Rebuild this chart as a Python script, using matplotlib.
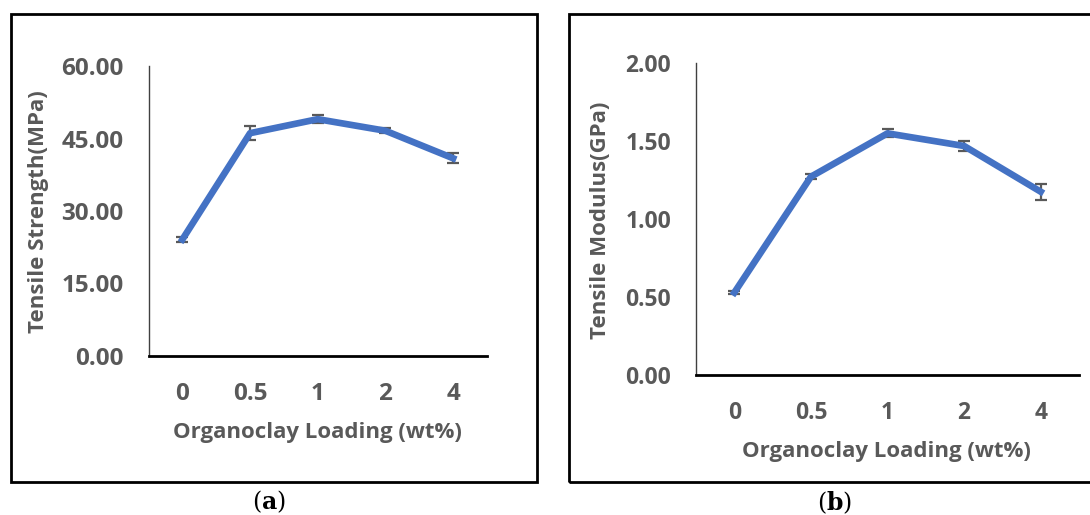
import matplotlib
matplotlib.use("Agg")
import matplotlib.pyplot as plt
from matplotlib.patches import Rectangle

plt.rcParams["font.family"] = ["Open Sans", "DejaVu Sans"]
plt.rcParams["mathtext.fontset"] = "dejavuserif"

loading = ["0", "0.5", "1", "2", "4"]

strength = [24.1, 46.1, 49.0, 46.6, 40.9]
strength_err = [0.5, 1.4, 0.8, 0.5, 1.0]
strength_ticks = [0, 15, 30, 45, 60]

modulus = [0.528, 1.271, 1.549, 1.468, 1.175]
modulus_err = [0.01, 0.015, 0.025, 0.035, 0.05]
modulus_ticks = [0, 0.5, 1.0, 1.5, 2.0]

BLUE = "#4472C4"
GREY = "#595959"
W, H = 1090, 515


def px(x0, y0, x1, y1):
    """pixel box (top-left origin) -> figure fraction rect"""
    return [x0 / W, 1 - y1 / H, (x1 - x0) / W, (y1 - y0) / H]


def panel(ax, y, err, ticks, ylabel, fs_tick, ylab_xy, xlab_xy):
    pos = range(len(loading))
    ax.errorbar(pos, y, yerr=err, color=BLUE, lw=4.8, ecolor=GREY,
                elinewidth=1.6, capsize=4.6, capthick=1.6, zorder=3)
    ax.set_xlim(-0.5, 4.5)
    ax.set_ylim(ticks[0], ticks[-1])
    ax.set_yticks(ticks)
    ax.set_yticklabels([f"{t:.2f}" for t in ticks])
    ax.set_xticks(list(pos))
    ax.set_xticklabels(loading)
    for s in ["top", "right"]:
        ax.spines[s].set_visible(False)
    ax.spines["left"].set_color("#404040")
    ax.spines["left"].set_linewidth(1.0)
    ax.spines["bottom"].set_color("black")
    ax.spines["bottom"].set_linewidth(2.0)
    ax.tick_params(axis="both", length=0, labelsize=fs_tick, labelcolor=GREY)
    ax.tick_params(axis="y", pad=18)
    ax.tick_params(axis="x", pad=19)
    for lab in ax.get_xticklabels() + ax.get_yticklabels():
        lab.set_fontweight("bold")
    ax.set_ylabel(ylabel, fontsize=16, color=GREY, fontweight="bold")
    ax.yaxis.set_label_coords(*ylab_xy)
    ax.yaxis.label.set_va("center")
    ax.set_xlabel("Organoclay Loading (wt%)", fontsize=16, color=GREY,
                  fontweight="bold")
    ax.xaxis.set_label_coords(*xlab_xy)
    ax.xaxis.label.set_va("center")


fig = plt.figure(figsize=(W / 100, H / 100), dpi=100)

# outer frames
fig.add_artist(Rectangle((11 / W, 1 - 482 / H), (537 - 11) / W, (482 - 14) / H,
                         transform=fig.transFigure, fill=False, lw=2.0, ec="black"))
fig.add_artist(Rectangle((569 / W, 1 - 482 / H), (1100 - 569) / W, (482 - 14) / H,
                         transform=fig.transFigure, fill=False, lw=2.0, ec="black"))

ax1 = fig.add_axes(px(148.5, 66, 487, 356))
panel(ax1, strength, strength_err, strength_ticks, "Tensile Strength(MPa)", 17.5,
      (-0.326, 0.498), (0.5, -0.265))

ax2 = fig.add_axes(px(696, 63, 1079, 375))
panel(ax2, modulus, modulus_err, modulus_ticks, "Tensile Modulus(GPa)", 16.5,
      (-0.249, 0.497), (0.496, -0.244))

fig.text(269 / W, 1 - 502 / H, r"$(\mathbf{a})$", ha="center", va="center", fontsize=17)
fig.text(835 / W, 1 - 503 / H, r"$(\mathbf{b})$", ha="center", va="center", fontsize=17)

fig.savefig("out.png", dpi=100)
